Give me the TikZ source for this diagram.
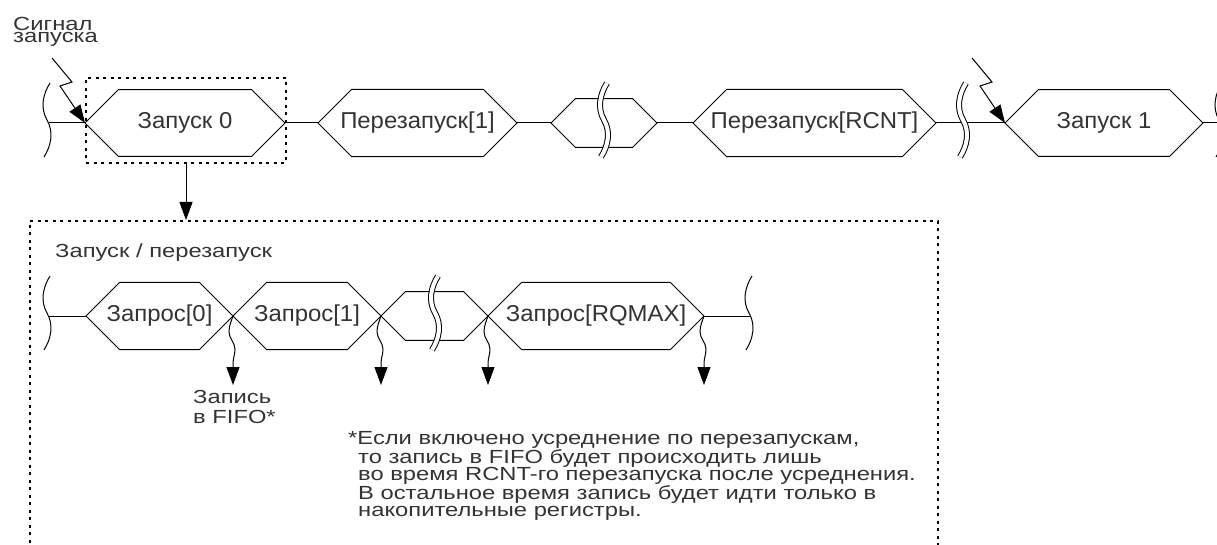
\documentclass[tikz,border=0pt]{standalone}
\usepackage{fontspec}
\setmainfont{Liberation Sans}
\newfontfamily\boxfnt[FakeStretch=1.04]{Liberation Sans}
\newfontfamily\freefnt[FakeStretch=1.25]{Liberation Sans}
\usetikzlibrary{shapes.misc,arrows.meta,positioning,calc}
\definecolor{txt}{HTML}{333333}
\newcommand\lblfont{\boxfnt\fontsize{23}{24}\selectfont}
\newcommand\sigfont{\freefnt\fontsize{19}{12}\selectfont}
\newcommand\fifofont{\freefnt\fontsize{19}{20}\selectfont}
\newcommand\notefont{\freefnt\fontsize{19}{17.4}\selectfont}
\tikzset{
  hexbox/.style={chamfered rectangle,chamfered rectangle xsep=23pt,
                 chamfered rectangle ysep=23pt,draw,line width=1pt,
                 minimum width=#1,minimum height=46pt,inner sep=0pt,
                 outer sep=0pt,font=\lblfont,text=txt},
  ln/.style={line width=1pt},
  arr/.style={-{Triangle[length=18pt,width=13pt]},line width=1pt},
  wv/.style={line width=1pt},
  dotbox/.style={rectangle,draw,line width=1.6pt,dash pattern=on 3pt off 4.5pt},
  lbl/.style={font=\fifofont,text=txt,inner sep=0pt,align=left},
  brace/.pic={\draw[wv] (3,-37) .. controls (-4,-26) and (-7,-12) .. (0,0)
                .. controls (7,12) and (4,26) .. (-3,37);},
  brk/.pic={\draw[wv,double,double distance=4pt] (3,-37) .. controls (-4,-26) and (-7,-12) .. (0,0)
                .. controls (7,12) and (4,26) .. (-3,37);},
}
\begin{document}
\begin{tikzpicture}[x=1pt,y=-1pt]
  \useasboundingbox (0,0) rectangle (1217,545);

  % top row
  \node[hexbox=200pt] (zap0) at (185,123) {Запуск 0};
  \node[hexbox=199pt,right=33pt of zap0] (rst1) {Перезапуск[1]};
  \node[hexbox=106pt,right=34pt of rst1] (dt1)  {\phantom{Зр}};
  \node[hexbox=243pt,right=36pt of dt1]  (rstN) {Перезапуск[RCNT]};
  \node[hexbox=198pt,right=69pt of rstN] (zap1) {Запуск 1};

  \coordinate (lb0) at (49,123);
  \coordinate (rb0) at (1220,123);
  \draw[ln] (lb0) -- (zap0.west);
  \draw[ln] (zap0.east) -- (rst1.west);
  \draw[ln] (rst1.east) -- (dt1.west);
  \draw[ln] (dt1.east) -- (rstN.west);
  \draw[ln] (rstN.east) -- (zap1.west);
  \draw[ln] (zap1.east) -- (rb0);
  \pic at (47,120) {brace};
  \pic at (1219,120) {brace};
  \pic at (604,120) {brk};
  \pic at (963,120) {brk};

  % start signals
  \node[lbl,font=\sigfont,anchor=north west] (siglbl) at (13,17) {Сигнал\\запуска};
  \coordinate (sig0) at ($(zap0.west)+(-33,-65)$);
  \coordinate (sig1) at ($(zap1.west)+(-33,-65)$);
  \draw[arr] (sig0) -- ++(20,24) -- ++(-12,4) -- (zap0.west);
  \draw[arr] (sig1) -- ++(20,24) -- ++(-12,4) -- (zap1.west);

  % zoom box
  \node[dotbox,minimum width=200pt,minimum height=85pt] (sel) at (186,120.5) {};
  \node[dotbox,minimum width=908pt,minimum height=340pt,anchor=north west] (grp) at (29,220) {};
  \draw[arr] (sel.south) -- (sel.south |- grp.north);
  \node[lbl,anchor=north west] (grplbl) at (55,244) {Запуск / перезапуск};

  % request row
  \node[hexbox=147pt] (rq0) at (159.5,316) {Запрос[0]};
  \node[hexbox=148pt,right=0pt of rq0] (rq1) {Запрос[1]};
  \node[hexbox=107pt,right=0pt of rq1] (dt2) {\phantom{Зр}};
  \node[hexbox=216pt,right=0pt of dt2] (rqM) {Запрос[RQMAX]};

  \coordinate (lb1) at (49,316);
  \coordinate (rb1) at (751,316);
  \draw[ln] (lb1) -- (rq0.west);
  \draw[ln] (rqM.east) -- (rb1);
  \pic at (47,313) {brace};
  \pic at (749,313) {brace};
  \pic at (435,313) {brk};

  \foreach \p in {rq0.east,rq1.east,dt2.east,rqM.east}
    \draw[arr] (\p) .. controls +(-2,6) and +(0,-6) .. ++(-4,16)
      .. controls +(0,6) and +(0,-6) .. ++(6,17)
      .. controls +(0,6) and +(0,-8) .. ++(-2,16) -- ++(0,20);

  \node[lbl,anchor=north west] (fifo) at (193,390) {Запись\\в FIFO*};
  \node[lbl,font=\notefont,anchor=north west] (note) at (348,431)
    {*Если включено усреднение по перезапускам,\\
     \hspace*{10pt}то запись в FIFO будет происходить лишь\\
     \hspace*{10pt}во время RCNT-го перезапуска после усреднения.\\
     \hspace*{10pt}В остальное время запись будет идти только в\\
     \hspace*{10pt}накопительные регистры.};
\end{tikzpicture}
\end{document}
